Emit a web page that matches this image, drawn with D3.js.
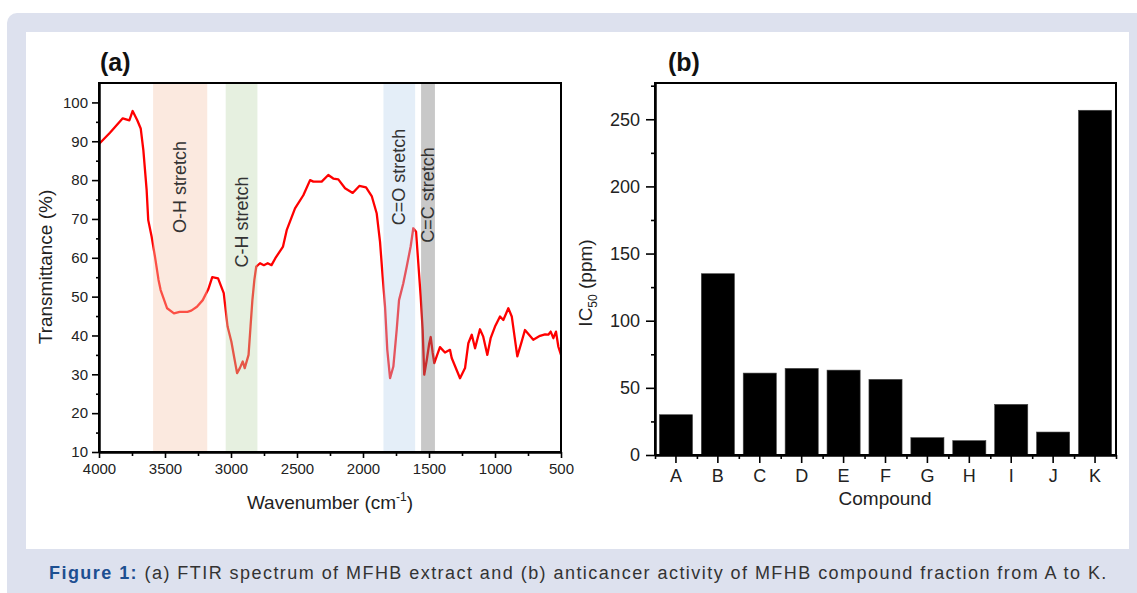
<!DOCTYPE html>
<html>
<head>
<meta charset="utf-8">
<script src="https://cdn.jsdelivr.net/npm/d3@7"></script>
<style>
  body { margin: 0; background: #fff; }
  svg text { font-family: "Liberation Sans", Arial, sans-serif; fill: #222; }
  .axis path, .axis line { stroke: #000; }
  .axis .domain { stroke-width: 2; }
  .axis line { stroke-width: 1.6; }
</style>
</head>
<body>
<script>
// FTIR spectrum (a)
var wavenumber = [4000, 3917, 3820, 3770, 3745, 3710, 3684, 3664, 3639, 3627, 3601, 3576, 3549, 3533,
  3484, 3432, 3389, 3330, 3301, 3258, 3214, 3171, 3142, 3098, 3055, 3026, 2997, 2977, 2954, 2933,
  2911, 2896, 2867, 2852, 2838, 2823, 2809, 2780, 2751, 2722, 2693, 2664, 2606, 2578, 2515, 2452,
  2401, 2376, 2313, 2263, 2225, 2187, 2136, 2078, 2028, 1977, 1934, 1896, 1871, 1851, 1833, 1816,
  1795, 1770, 1745, 1727, 1695, 1669, 1639, 1619, 1598, 1581, 1563, 1548, 1536, 1517, 1498, 1487,
  1472, 1460, 1442, 1417, 1379, 1341, 1328, 1265, 1227, 1202, 1176, 1151, 1114, 1089, 1058, 1033,
  1000, 962, 937, 899, 873, 831, 798, 773, 710, 659, 621, 596, 578, 558, 538, 520, 500];
var transmittance = [89.3, 92.2, 95.9, 95.4, 97.8, 95.4, 93.3, 87.7, 77.4, 69.7, 65.4, 60.3, 54.3, 51.7,
  47, 45.7, 46.1, 46.1, 46.4, 47.4, 49.1, 52, 55, 54.7, 50.9, 42.3, 38.4, 34.6, 30.3, 31.6,
  33.3, 31.6, 35, 42.3, 49.1, 54.3, 57.7, 58.6, 58.1, 58.6, 58.1, 59.9, 62.9, 67.1, 72.7, 76.1,
  80, 79.6, 79.6, 81.3, 80.4, 80.2, 77.9, 76.7, 78.5, 78.1, 75.9, 71.4, 64.1, 55.1, 47.4, 36.3,
  29, 32, 41.4, 49.1, 53.4, 57.7, 62.9, 67.6, 66.7, 58.6, 50, 41.4, 29.9, 33.7, 38, 39.6,
  35.5, 32.9, 34.6, 37, 35.6, 36.3, 34.2, 29, 31.6, 38, 40.2, 36.7, 41.6, 39.7, 35, 39.3,
  42.3, 44.9, 44, 47, 44.9, 34.6, 38.4, 41.4, 38.9, 39.9, 40.3, 40.2, 41, 39.3, 41, 37.1, 35];

var bandNames = ["O-H stretch", "C-H stretch", "C=O stretch", "C=C stretch"];
var bandFrom = [3590, 3040, 1845, 1560];
var bandTo = [3180, 2800, 1605, 1455];
var bandLabelY = [187, 222, 177, 195];

var xTicksA = [4000, 3500, 3000, 2500, 2000, 1500, 1000, 500];
var yTicksA = [10, 20, 30, 40, 50, 60, 70, 80, 90, 100];

// IC50 of compound fractions (b)
var compounds = ["A", "B", "C", "D", "E", "F", "G", "H", "I", "J", "K"];
var ic50 = [30, 135, 61, 64.5, 63.2, 56.3, 12.9, 10.7, 37.7, 17.1, 256.7];
var yTicksB = [0, 50, 100, 150, 200, 250];

var bandColors = ["rgb(245,200,175)", "rgb(192,217,177)", "rgb(187,212,237)", "rgb(118,118,118)"];

var W = 1137, H = 593;
var svg = d3.select("body").append("svg").attr("width", W).attr("height", H);

// page background
svg.append("rect").attr("x", 7).attr("y", 13).attr("width", W + 20).attr("height", H + 20)
    .attr("rx", 10).attr("fill", "#dde1ee");
svg.append("rect").attr("x", 26).attr("y", 32).attr("width", 1103).attr("height", 517)
    .attr("fill", "#fff");

// ---------- panel (a) ----------
var xa = d3.scaleLinear().domain([4000, 500]).range([99, 561]);
var ya = d3.scaleLinear().domain([10, 105]).range([452, 83]);

var ga = svg.append("g");

var line = d3.line()
    .x(function(d) { return xa(d[0]); })
    .y(function(d) { return ya(d[1]); });

ga.append("path")
    .datum(d3.zip(wavenumber, transmittance))
    .attr("d", line)
    .attr("fill", "none")
    .attr("stroke", "#ff0000")
    .attr("stroke-width", 2.3)
    .attr("stroke-linejoin", "round");

// shaded bands sit over the line, so it fades inside them
ga.selectAll(".band")
    .data(bandNames)
  .enter().append("rect")
    .attr("class", "band")
    .attr("x", function(d, i) { return xa(bandFrom[i]); })
    .attr("width", function(d, i) { return xa(bandTo[i]) - xa(bandFrom[i]); })
    .attr("y", ya(105))
    .attr("height", ya(10) - ya(105))
    .attr("fill", function(d, i) { return bandColors[i]; })
    .attr("fill-opacity", 0.4);

ga.selectAll(".bandlabel")
    .data(bandNames)
  .enter().append("text")
    .attr("class", "bandlabel")
    .attr("transform", function(d, i) {
      return "translate(" + ((xa(bandFrom[i]) + xa(bandTo[i])) / 2 + 6) + "," + bandLabelY[i] + ") rotate(-90)";
    })
    .attr("text-anchor", "middle")
    .style("font-size", "18px")
    .style("fill", "#333")
    .text(function(d) { return d; });

// frame
ga.append("rect").attr("x", 99).attr("y", 83).attr("width", 462).attr("height", 369)
    .attr("fill", "none").attr("stroke", "#000").attr("stroke-width", 2);

ga.append("g").attr("class", "axis")
    .attr("transform", "translate(0,452)")
    .call(d3.axisBottom(xa).tickValues(d3.range(3750, 500, -500)).tickFormat("").tickSize(4).tickSizeOuter(0));
ga.append("g").attr("class", "axis")
    .attr("transform", "translate(0,452)")
    .call(d3.axisBottom(xa).tickValues(xTicksA).tickFormat(d3.format("d")).tickSize(6).tickSizeOuter(0))
    .selectAll("text").style("font-size", "15px").attr("dy", "0.85em");

ga.append("g").attr("class", "axis")
    .attr("transform", "translate(99,0)")
    .call(d3.axisLeft(ya).tickValues(d3.range(15, 105, 10)).tickFormat("").tickSize(3).tickSizeOuter(0));
ga.append("g").attr("class", "axis")
    .attr("transform", "translate(99,0)")
    .call(d3.axisLeft(ya).tickValues(yTicksA).tickSize(7).tickPadding(4).tickSizeOuter(0))
    .selectAll("text").style("font-size", "15px");

ga.append("text").attr("x", 100).attr("y", 71)
    .style("font-size", "25px").style("font-weight", "bold").style("fill", "#111").text("(a)");

ga.append("text").attr("transform", "translate(52,267) rotate(-90)")
    .attr("text-anchor", "middle").style("font-size", "19px").text("Transmittance (%)");

var xl = ga.append("text").attr("x", 330).attr("y", 509)
    .attr("text-anchor", "middle").style("font-size", "19px");
xl.append("tspan").text("Wavenumber (cm");
xl.append("tspan").attr("dy", -8).style("font-size", "12px").text("-1");
xl.append("tspan").attr("dy", 8).text(")");

// ---------- panel (b) ----------
var xb = d3.scaleBand().domain(compounds).range([655, 1116]).paddingInner(0.21).paddingOuter(0.105);
var yb = d3.scaleLinear().domain([0, 277]).range([455, 83]);

var gb = svg.append("g");

gb.selectAll(".bar")
    .data(compounds)
  .enter().append("rect")
    .attr("class", "bar")
    .attr("x", function(d) { return xb(d); })
    .attr("width", xb.bandwidth())
    .attr("y", function(d, i) { return yb(ic50[i]); })
    .attr("height", function(d, i) { return yb(0) - yb(ic50[i]); })
    .attr("fill", "#000")
    .attr("stroke", "#444")
    .attr("stroke-width", 0.6);

gb.append("rect").attr("x", 655).attr("y", 83).attr("width", 461).attr("height", 372)
    .attr("fill", "none").attr("stroke", "#000").attr("stroke-width", 2);

var bounds = compounds.map(function(d) { return xb(d) - xb.step() * xb.paddingInner() / 2; });
bounds.push(1116);
var xbMinor = d3.scaleLinear().domain([655, 1116]).range([655, 1116]);
gb.append("g").attr("class", "axis")
    .attr("transform", "translate(0,455)")
    .call(d3.axisBottom(xbMinor).tickValues(bounds).tickFormat("").tickSize(4).tickSizeOuter(0));
gb.append("g").attr("class", "axis")
    .attr("transform", "translate(0,455)")
    .call(d3.axisBottom(xb).tickSize(8).tickSizeOuter(0))
    .selectAll("text").style("font-size", "18px").attr("dy", "0.9em");

gb.append("g").attr("class", "axis")
    .attr("transform", "translate(655,0)")
    .call(d3.axisLeft(yb).tickValues(d3.range(25, 277, 50)).tickFormat("").tickSize(4).tickSizeOuter(0));
gb.append("g").attr("class", "axis")
    .attr("transform", "translate(655,0)")
    .call(d3.axisLeft(yb).tickValues(yTicksB).tickSize(9).tickPadding(6).tickSizeOuter(0))
    .selectAll("text").style("font-size", "18px");

gb.append("text").attr("x", 668).attr("y", 71)
    .style("font-size", "25px").style("font-weight", "bold").style("fill", "#111").text("(b)");

var yl = gb.append("text").attr("transform", "translate(592,283) rotate(-90)")
    .attr("text-anchor", "middle").style("font-size", "19px");
yl.append("tspan").text("IC");
yl.append("tspan").attr("dy", 5).style("font-size", "12px").text("50");
yl.append("tspan").attr("dy", -5).text(" (ppm)");

gb.append("text").attr("x", 885).attr("y", 505)
    .attr("text-anchor", "middle").style("font-size", "19px").text("Compound");

// ---------- caption ----------
var capText = " (a) FTIR spectrum of MFHB extract and (b) anticancer activity of MFHB compound fraction from A to K.";
var cap = svg.append("text").attr("x", 49).attr("y", 579).style("font-size", "18px");
cap.append("tspan").style("font-weight", "bold").style("fill", "#1d4f91").text("Figure 1:");
cap.append("tspan").style("fill", "#333").text(capText);
// open up letter spacing a little so the caption spans the same width as in the figure
var capLen = cap.node().getComputedTextLength();
var nChars = capText.length + 9;
if (capLen > 0 && capLen < 1059) cap.style("letter-spacing", ((1059 - capLen) / nChars).toFixed(2) + "px");
</script>
</body>
</html>
